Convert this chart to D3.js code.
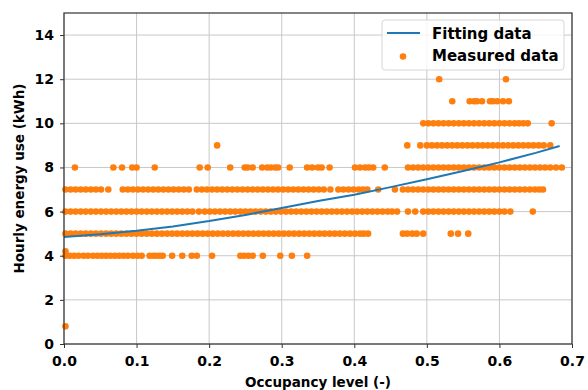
<!DOCTYPE html>
<html>
<head>
<meta charset="UTF-8">
<title>Occupancy vs hourly energy use</title>
<script src="https://d3js.org/d3.v7.min.js"></script>
<style>
  body { margin: 0; background: #fff; }
  svg { display: block; font-family: "DejaVu Sans", sans-serif; font-weight: bold; }
</style>
</head>
<body>
<script>
// measured data: x positions (occupancy) for each integer energy level
var xsAt4 = [0.002,0.008,0.014,0.020,0.027,0.033,0.040,0.046,0.052,0.058,0.064,0.070,0.076,0.082,0.088,
  0.095,0.101,0.107,0.118,0.123,0.127,0.132,0.136,0.149,0.163,0.176,0.183,0.204,0.243,0.248,0.254,0.260,0.274,0.298,0.314,0.335];
var xsAt5 = [0.002,0.009,0.016,0.023,0.030,0.037,0.044,0.051,0.058,0.065,0.072,0.079,0.086,0.093,0.100,0.107,0.114,0.121,
  0.128,0.135,0.142,0.149,0.156,0.163,0.170,0.177,0.184,0.191,0.198,0.205,0.212,0.219,0.226,0.233,0.240,0.247,0.254,0.261,
  0.268,0.275,0.282,0.289,0.296,0.303,0.310,0.317,0.324,0.331,0.338,0.345,0.352,0.359,0.366,0.373,0.380,0.387,0.394,0.401,
  0.408,0.413,0.419,0.467,0.473,0.480,0.486,0.495,0.533,0.543,0.557];
var xsAt6 = [0.002,0.009,0.016,0.023,0.030,0.037,0.044,0.051,0.058,0.065,0.072,0.079,0.086,0.093,0.100,0.107,0.114,0.121,
  0.128,0.135,0.142,0.149,0.156,0.163,0.170,0.177,0.186,0.194,0.201,0.208,0.215,0.222,0.229,0.236,0.243,0.250,0.257,0.264,
  0.271,0.278,0.285,0.292,0.299,0.306,0.313,0.320,0.327,0.334,0.341,0.348,0.355,0.362,0.369,0.376,0.383,0.390,0.397,0.404,
  0.411,0.418,0.425,0.432,0.439,0.446,0.452,0.459,0.474,0.484,
  0.495,0.502,0.509,0.516,0.523,0.530,0.537,0.544,0.551,0.558,0.565,0.572,0.579,0.586,0.593,0.600,0.607,0.615,0.646];
var xsAt7 = [0.002,0.009,0.016,0.023,0.030,0.037,0.044,0.051,0.061,
  0.081,0.088,0.095,0.102,0.109,0.116,0.123,0.130,0.137,0.144,0.151,0.158,0.165,0.172,0.183,0.190,0.197,0.204,0.211,0.218,
  0.225,0.232,0.239,0.246,0.253,0.260,0.267,0.274,0.281,0.288,0.295,0.302,0.309,0.316,0.323,0.330,0.337,0.344,0.351,0.358,0.367,
  0.378,0.385,0.392,0.399,0.406,0.412,0.418,0.433,0.456,0.467,
  0.474,0.481,0.488,0.495,0.502,0.509,0.516,0.523,0.530,0.537,0.544,0.551,0.558,0.565,0.572,0.579,0.586,0.593,0.600,0.607,
  0.614,0.621,0.628,0.635,0.642,0.649,0.655,0.660];
var xsAt8 = [0.015,0.068,0.080,0.094,0.100,0.125,0.187,0.198,0.229,0.249,0.253,0.260,0.273,0.280,0.285,0.291,0.295,0.311,
  0.335,0.342,0.350,0.355,0.366,0.401,0.408,0.415,0.420,0.426,0.442,
  0.474,0.481,0.488,0.495,0.502,0.509,0.516,0.523,0.530,0.537,0.544,0.551,0.558,0.565,0.572,0.579,0.586,0.593,0.600,0.607,
  0.614,0.621,0.628,0.635,0.642,0.649,0.656,0.663,0.670,0.678,0.686];
var xsAt9 = [0.211,0.473,0.491,0.500,0.507,0.514,0.521,0.528,0.535,0.542,0.549,0.556,0.563,0.570,0.577,0.584,0.591,0.598,
  0.605,0.612,0.619,0.626,0.633,0.640,0.647,0.654,0.661,0.670];
var xsAt10 = [0.495,0.502,0.509,0.516,0.523,0.530,0.537,0.544,0.551,0.558,0.565,0.572,0.579,0.586,0.593,0.600,0.607,0.614,
  0.621,0.627,0.633,0.639,0.672];
var xsAt11 = [0.535,0.559,0.565,0.569,0.576,0.587,0.591,0.597,0.605,0.613];
var xsAt12 = [0.517,0.609];
var oddX = [0.002,0.002];
var oddY = [0.8,4.2];

// fitted curve
var fitX = [0,0.05,0.1,0.15,0.2,0.25,0.3,0.35,0.4,0.45,0.5,0.55,0.6,0.65,0.683];
var fitY = [4.85,4.97,5.13,5.33,5.57,5.85,6.16,6.48,6.76,7.11,7.47,7.84,8.23,8.66,8.97];

var xTicks = [0,0.1,0.2,0.3,0.4,0.5,0.6,0.7];
var yTicks = [0,2,4,6,8,10,12,14];

var width = 588, height = 390;
var margin = {top: 13, right: 16, bottom: 46, left: 64};
var orange = "#ff7f0e", blue = "#1f77b4";

var rows = [[4,xsAt4],[5,xsAt5],[6,xsAt6],[7,xsAt7],[8,xsAt8],[9,xsAt9],[10,xsAt10],[11,xsAt11],[12,xsAt12]];
var points = [];
rows.forEach(function(r){
  r[1].forEach(function(x){ points.push({x: x, y: r[0]}); });
});
oddX.forEach(function(x,i){ points.push({x: x, y: oddY[i]}); });
var fit = fitX.map(function(x,i){ return {x: x, y: fitY[i]}; });

var svg = d3.select("body").append("svg")
  .attr("width", width)
  .attr("height", height);

var x = d3.scaleLinear().domain([0,0.7]).range([margin.left, width - margin.right]);
var y = d3.scaleLinear().domain([0,15]).range([height - margin.bottom, margin.top]);

// grid
svg.append("g").selectAll("line").data(xTicks).enter().append("line")
  .attr("x1", function(d){ return x(d); }).attr("x2", function(d){ return x(d); })
  .attr("y1", y(0)).attr("y2", y(15))
  .attr("stroke", "#c8c8c8").attr("stroke-width", 1);
svg.append("g").selectAll("line").data(yTicks).enter().append("line")
  .attr("y1", function(d){ return y(d); }).attr("y2", function(d){ return y(d); })
  .attr("x1", x(0)).attr("x2", x(0.7))
  .attr("stroke", "#c8c8c8").attr("stroke-width", 1);

// measured points
svg.append("g").selectAll("circle").data(points).enter().append("circle")
  .attr("cx", function(d){ return x(d.x); })
  .attr("cy", function(d){ return y(d.y); })
  .attr("r", 3.3)
  .attr("fill", orange);

// fitting curve
svg.append("path").datum(fit)
  .attr("fill", "none")
  .attr("stroke", blue)
  .attr("stroke-width", 2)
  .attr("d", d3.line().x(function(d){ return x(d.x); }).y(function(d){ return y(d.y); }));

// axes
var xAxis = svg.append("g")
  .attr("transform", "translate(0," + y(0) + ")")
  .call(d3.axisBottom(x).tickValues(xTicks).tickFormat(d3.format(".1f")).tickSize(4).tickPadding(8));
var yAxis = svg.append("g")
  .attr("transform", "translate(" + x(0) + ",0)")
  .call(d3.axisLeft(y).tickValues(yTicks).tickSize(4).tickPadding(6));
[xAxis, yAxis].forEach(function(g){
  g.select(".domain").remove();
  g.selectAll("line").attr("stroke", "#333");
  g.selectAll("text").attr("fill", "#000")
    .style("font-family", "'DejaVu Sans', sans-serif")
    .style("font-weight", "bold").style("font-size", "14px");
});

// frame
svg.append("rect")
  .attr("x", x(0)).attr("y", y(15))
  .attr("width", x(0.7) - x(0)).attr("height", y(0) - y(15))
  .attr("fill", "none").attr("stroke", "#333").attr("stroke-width", 1.2);

// axis labels
svg.append("text")
  .attr("x", (x(0) + x(0.7)) / 2).attr("y", 387)
  .attr("text-anchor", "middle")
  .style("font-size", "13.5px")
  .text("Occupancy level (-)");
svg.append("text")
  .attr("transform", "translate(24," + (y(0) + y(15)) / 2 + ") rotate(-90)")
  .attr("text-anchor", "middle")
  .style("font-size", "13.5px")
  .text("Hourly energy use (kWh)");

// legend
var lg = svg.append("g");
lg.append("rect")
  .attr("x", 382).attr("y", 20).attr("width", 182).attr("height", 50).attr("rx", 3)
  .attr("fill", "#fff").attr("fill-opacity", 0.8)
  .attr("stroke", "#d6d6d6");
lg.append("line")
  .attr("x1", 387).attr("x2", 420).attr("y1", 33).attr("y2", 33)
  .attr("stroke", blue).attr("stroke-width", 2);
lg.append("circle")
  .attr("cx", 403).attr("cy", 56.5).attr("r", 3.3).attr("fill", orange);
lg.append("text").attr("x", 432).attr("y", 38.5).style("font-size", "15px").text("Fitting data");
lg.append("text").attr("x", 432).attr("y", 61).style("font-size", "15px").text("Measured data");
</script>
</body>
</html>
